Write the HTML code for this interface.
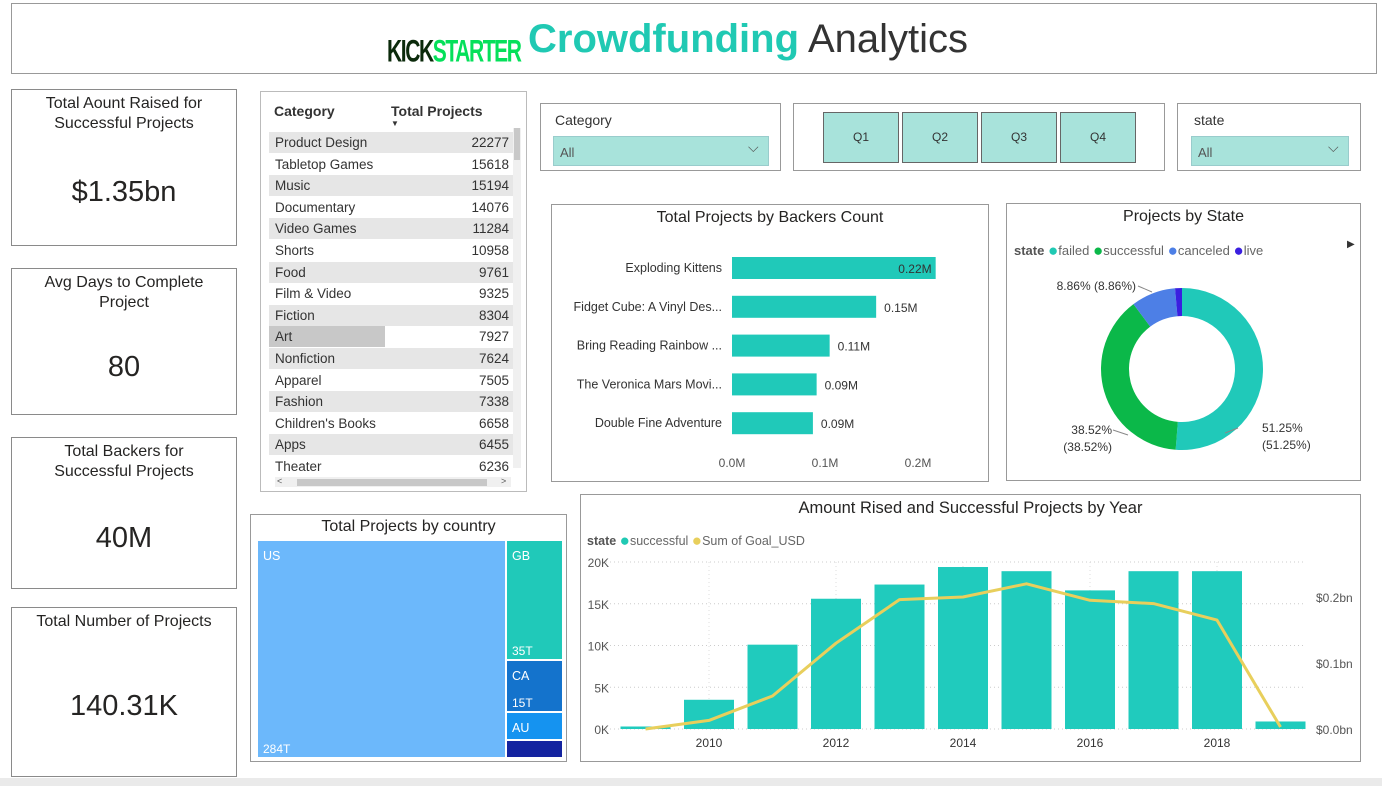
<!DOCTYPE html>
<html><head><meta charset="utf-8">
<style>
body{margin:0;width:1382px;height:786px;background:#eaeaea;font-family:"Liberation Sans",sans-serif;position:relative;overflow:hidden}
.abs{position:absolute}
.card{position:absolute;background:#fff;border:1px solid #8a8a8a;box-sizing:border-box}
.kt{position:absolute;left:0;right:0;text-align:center;font-size:16px;color:#252423;line-height:20px}
.kv{position:absolute;left:0;right:0;text-align:center;font-size:29px;color:#252423}
.title{position:absolute;left:0;right:0;text-align:center;font-size:16px;color:#252423}
.dot{font-size:17px;vertical-align:-1px}
</style></head><body>
<div class="abs" style="left:0;top:0;width:1382px;height:778px;background:#fff"></div>
<div class="card" style="left:11px;top:3px;width:1366px;height:71px;border-color:#999"></div>
<div class="abs" style="left:387px;top:34px;width:130px;height:38px;font:bold 30px 'Liberation Sans Narrow','Liberation Sans',sans-serif;letter-spacing:-2px;transform:scale(0.7,1.05);transform-origin:left top;white-space:nowrap"><span style="color:#0b2a0b">KICK</span><span style="color:#05e05a">STARTER</span></div>
<div class="abs" style="left:528px;top:17px;font-size:40px;color:#333;white-space:nowrap"><b style="color:#20c9b3">Crowdfunding</b> Analytics</div>

<div class="card" style="left:11px;top:89px;width:226px;height:157px"><div class="kt" style="top:4px">Total Aount Raised for<br>Successful Projects</div><div class="kv" style="top:86px">$1.35bn</div></div>
<div class="card" style="left:11px;top:268px;width:226px;height:147px"><div class="kt" style="top:4px">Avg Days to Complete<br>Project</div><div class="kv" style="top:82px">80</div></div>
<div class="card" style="left:11px;top:437px;width:226px;height:152px"><div class="kt" style="top:4px">Total Backers for<br>Successful Projects</div><div class="kv" style="top:84px">40M</div></div>
<div class="card" style="left:11px;top:607px;width:226px;height:170px"><div class="kt" style="top:4px">Total Number of Projects</div><div class="kv" style="top:82px">140.31K</div></div>

<div class="card" style="left:260px;top:91px;width:267px;height:401px;border-color:#bbb">
<div class="abs" style="left:13px;top:11px;font-size:14px;font-weight:bold;color:#333">Category</div>
<div class="abs" style="left:130px;top:11px;font-size:14px;font-weight:bold;color:#333">Total Projects</div>
<div class="abs" style="left:130px;top:27px;font-size:8px;color:#333">▼</div>
<div id="rows"></div>
<div class="abs" style="left:252px;top:36px;width:8px;height:340px;background:#f0f0f0"><div style="width:6px;margin-left:1px;height:32px;background:#c8c8c8"></div></div>
<div class="abs" style="left:14px;top:385px;width:236px;height:10px;background:#f0f0f0;font-size:9px;color:#555"><div class="abs" style="left:22px;top:2px;width:190px;height:7px;background:#c8c8c8"></div><span class="abs" style="left:2px;top:-1px">&lt;</span><span class="abs" style="left:226px;top:-1px">&gt;</span></div>
</div>

<div class="card" style="left:540px;top:103px;width:241px;height:68px;border-color:#999"><div class="abs" style="left:14px;top:8px;font-size:14px;color:#333">Category</div><div class="abs" style="left:12px;top:32px;width:214px;height:28px;background:#a8e3db;border:1px solid #9cc"><span class="abs" style="left:6px;top:8px;font-size:13px;color:#555">All</span><span class="abs" style="left:194px;top:2px;font-size:14px;color:#555">⌵</span></div></div>
<div class="card" style="left:793px;top:103px;width:372px;height:68px;border-color:#999">
<div class="abs" style="left:29px;top:8px;width:76px;height:51px;background:#a8e3db;border:1px solid #666;box-sizing:border-box;text-align:center;line-height:49px;font-size:12px;color:#333">Q1</div>
<div class="abs" style="left:108px;top:8px;width:76px;height:51px;background:#a8e3db;border:1px solid #666;box-sizing:border-box;text-align:center;line-height:49px;font-size:12px;color:#333">Q2</div>
<div class="abs" style="left:187px;top:8px;width:76px;height:51px;background:#a8e3db;border:1px solid #666;box-sizing:border-box;text-align:center;line-height:49px;font-size:12px;color:#333">Q3</div>
<div class="abs" style="left:266px;top:8px;width:76px;height:51px;background:#a8e3db;border:1px solid #666;box-sizing:border-box;text-align:center;line-height:49px;font-size:12px;color:#333">Q4</div></div>
<div class="card" style="left:1177px;top:103px;width:184px;height:68px;border-color:#999"><div class="abs" style="left:16px;top:8px;font-size:14px;color:#333">state</div><div class="abs" style="left:13px;top:32px;width:156px;height:28px;background:#a8e3db;border:1px solid #9cc"><span class="abs" style="left:6px;top:8px;font-size:13px;color:#555">All</span><span class="abs" style="left:136px;top:2px;font-size:14px;color:#555">⌵</span></div></div>

<div class="card" style="left:551px;top:204px;width:438px;height:278px;border-color:#999"><div class="title" style="top:4px">Total Projects by Backers Count</div></div>

<div class="card" style="left:1006px;top:203px;width:355px;height:278px;border-color:#999"><div class="title" style="top:4px">Projects by State</div>
<div class="abs" style="left:7px;top:37px;font-size:13px;color:#666;white-space:nowrap"><b style="color:#555">state</b> <span class="dot" style="color:#20c9b3">●</span>failed <span class="dot" style="color:#0bb849">●</span>successful <span class="dot" style="color:#4d7fe6">●</span>canceled <span class="dot" style="color:#3a1fe0">●</span>live</div>
<div class="abs" style="left:340px;top:35px;font-size:10px;color:#333">▶</div></div>

<div class="card" style="left:250px;top:514px;width:317px;height:248px;border-color:#999"><div class="title" style="top:3px">Total Projects by country</div></div>

<div class="card" style="left:580px;top:494px;width:781px;height:268px;border-color:#999"><div class="title" style="top:4px;font-size:16.5px">Amount Rised and Successful Projects by Year</div>
<div class="abs" style="left:6px;top:36px;font-size:12.5px;color:#666;white-space:nowrap"><b style="color:#555">state</b> <span class="dot" style="color:#20c9b3">●</span>successful <span class="dot" style="color:#e8cf5c">●</span>Sum of Goal_USD</div></div>

<svg class="abs" id="main" style="left:0;top:0" width="1382" height="786"></svg>
<script>
const NS="http://www.w3.org/2000/svg";
function mk(svg,tag,attrs,txt){const e=document.createElementNS(NS,tag);for(const k in attrs)e.setAttribute(k,attrs[k]);if(txt!==undefined)e.textContent=txt;svg.appendChild(e);return e;}

// table
const cats=["Product Design","Tabletop Games","Music","Documentary","Video Games","Shorts","Food","Film & Video","Fiction","Art","Nonfiction","Apparel","Fashion","Children's Books","Apps","Theater"];
const catVals=[22277,15618,15194,14076,11284,10958,9761,9325,8304,7927,7624,7505,7338,6658,6455,6236];
const rows=document.getElementById('rows');
cats.forEach((c,i)=>{const r=document.createElement('div');


r.style.cssText=`position:absolute;left:8px;top:${40+i*21.6}px;width:244px;height:21px;background:${i%2==0?'#e6e6e6':'#fff'};font-size:13.5px;color:#333;line-height:21px`;
r.innerHTML=(c=="Art"?'<div style="position:absolute;left:0;top:0;width:116px;height:21px;background:#c8c8c8"></div>':'')+`<span style="position:absolute;left:6px">${c.replace('&','&amp;')}</span><span style="position:absolute;right:4px">${catVals[i]}</span>`;
rows.appendChild(r);});

const svg=document.getElementById('main');
// backers chart
const bNames=["Exploding Kittens","Fidget Cube: A Vinyl Des...","Bring Reading Rainbow ...","The Veronica Mars Movi...","Double Fine Adventure"];
const bVals=[0.219,0.155,0.105,0.091,0.087];
const bLabels=["0.22M","0.15M","0.11M","0.09M","0.09M"];
const bTicks=[0,0.1,0.2];
const bx=v=>732+v*930, by=i=>268+i*38.8;
bTicks.forEach(t=>{const e=mk(svg,'text',{x:bx(t),y:467,'text-anchor':'middle','font-size':12,fill:'#555'},t.toFixed(1)+'M');});
bNames.forEach((n,i)=>{
 const t=mk(svg,'text',{x:722,y:by(i)+4,'text-anchor':'end','font-size':12.5,fill:'#333'},n);
 const r=mk(svg,'rect',{x:bx(0),y:by(i)-11,width:bx(bVals[i])-bx(0),height:22,fill:'#20c9b9'});
 const inside=i==0;
 const l=mk(svg,'text',{x:inside?bx(bVals[i])-4:bx(bVals[i])+8,y:by(i)+5,'text-anchor':inside?'end':'start','font-size':12,fill:'#333'},bLabels[i]);
});

// donut
const sNames=["failed","successful","canceled","live"];
const sVals=[51.25,38.52,8.86,1.37];
const sCols=["#20c9b9","#0bb849","#4d7fe6","#3a1fe0"];
const cx=1182,cy=369,R=81,r0=53;
let a0=0;const tot=sVals.reduce((a,b)=>a+b,0);
sVals.forEach((v,i)=>{const a1=a0+v/tot*2*Math.PI;
 const p=(a,rr)=>[cx+rr*Math.sin(a),cy-rr*Math.cos(a)];
 const [x1,y1]=p(a0,R),[x2,y2]=p(a1,R),[x3,y3]=p(a1,r0),[x4,y4]=p(a0,r0);const lg=a1-a0>Math.PI?1:0;
 const e=mk(svg,'path',{d:`M${x1},${y1}A${R},${R} 0 ${lg} 1 ${x2},${y2}L${x3},${y3}A${r0},${r0} 0 ${lg} 0 ${x4},${y4}Z`,fill:sCols[i]});
 a0=a1;});
[[1240,432,"51.25%",'start'],[1240,449,"(51.25%)",'start'],[1112,434,"38.52%",'end'],[1112,451,"(38.52%)",'end'],[1136,290,"8.86% (8.86%)",'end']].forEach(d=>{const e=mk(svg,'text',{x:d[0]+(d[3]=='start'?22:0),y:d[1],'text-anchor':d[3],'font-size':12,fill:'#333'},d[2]);});
mk(svg,'path',{d:'M1225,433 L1238,428',stroke:'#888',fill:'none'});
mk(svg,'path',{d:'M1113,430 L1128,435',stroke:'#888',fill:'none'});
mk(svg,'path',{d:'M1138,286 L1152,292',stroke:'#888',fill:'none'});

// treemap
const tm=[["US",258,541,247,216,"#6cb8fb","284T"],["GB",507,541,55,118,"#20c9b9","35T"],["CA",507,661,55,50,"#1473cc","15T"],["AU",507,713,55,26,"#1593f0",""],["other",507,741,55,16,"#1424a0",""]];
tm.forEach(t=>{const e=mk(svg,'rect',{x:t[1],y:t[2],width:t[3],height:t[4],fill:t[5]});
 if(t[0]!="other"){const l=mk(svg,'text',{x:t[1]+5,y:t[2]+19,'font-size':12.5,fill:'#fff'},t[0]);}
 if(t[6]){const v=mk(svg,'text',{x:t[1]+5,y:t[2]+t[4]-4,'font-size':12,fill:'#fff'},t[6]);}});

// combo chart
const years=[2009,2010,2011,2012,2013,2014,2015,2016,2017,2018,2019];
const successCounts=[300,3500,10100,15600,17300,19400,18900,16600,18900,18900,900];
const goalBn=[0.0,0.013,0.05,0.13,0.196,0.2,0.22,0.195,0.19,0.165,0.003];
const leftTicks=[0,5000,10000,15000,20000];
const leftTickLabels=["0K","5K","10K","15K","20K"];
const rightTicks=[0,0.1,0.2];
const rightTickLabels=["$0.0bn","$0.1bn","$0.2bn"];
const xTickYears=[2010,2012,2014,2016,2018];
const X=y=>645.5+(y-2009)*63.5, YL=v=>729-v*(167/20000), YR=v=>729-v*(132/0.2);
leftTicks.forEach((t,i)=>{mk(svg,'line',{x1:606,x2:1305,y1:YL(t),y2:YL(t),stroke:'#ccc','stroke-dasharray':'1 3'});
 const e=mk(svg,'text',{x:609,y:YL(t)+5,'text-anchor':'end','font-size':12,fill:'#555'},leftTickLabels[i]);});
rightTicks.forEach((t,i)=>{const e=mk(svg,'text',{x:1316,y:YR(t)+5,'font-size':12,fill:'#555'},rightTickLabels[i]);});
xTickYears.forEach(y=>{mk(svg,'line',{x1:X(y),x2:X(y),y1:562,y2:729,stroke:'#ddd','stroke-dasharray':'1 3'});
 const e=mk(svg,'text',{x:X(y),y:747,'text-anchor':'middle','font-size':12,fill:'#333'},y);});
years.forEach((y,i)=>{const e=mk(svg,'rect',{x:X(y)-25,y:YL(successCounts[i]),width:50,height:729-YL(successCounts[i]),fill:'#20cbbd'});});
const ln=mk(svg,'polyline',{points:years.map((y,i)=>X(y)+','+YR(goalBn[i])).join(' '),fill:'none',stroke:'#e8cf5c','stroke-width':3,'stroke-linejoin':'round'});

</script>
</body></html>
